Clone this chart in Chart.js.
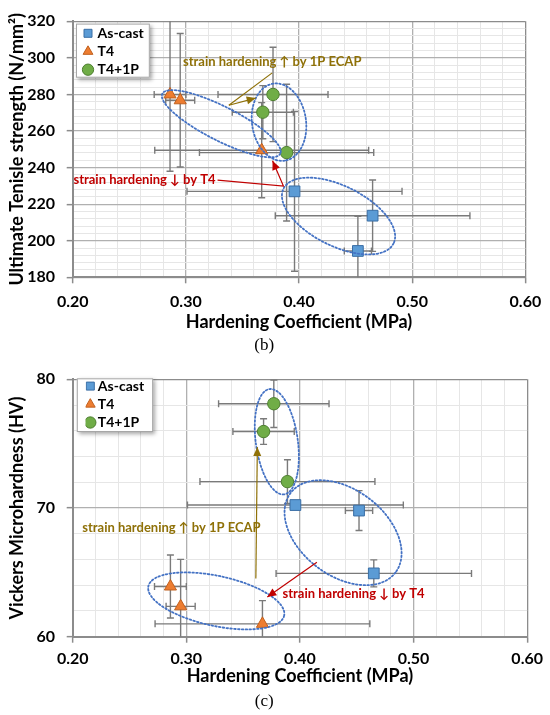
<!DOCTYPE html>
<html><head><meta charset="utf-8">
<script src="https://cdn.jsdelivr.net/npm/chart.js@4.4.1/dist/chart.umd.min.js"></script>
<style>
html,body{margin:0;padding:0;background:#fff;width:550px;height:715px;overflow:hidden}
.wrap{position:absolute;left:0;width:550px}
#w1{top:0;height:358px}
#w2{top:358px;height:357px}
canvas{display:block}
</style></head><body>
<div class="wrap" id="w1"><canvas id="c1"></canvas></div>
<div class="wrap" id="w2"><canvas id="c2"></canvas></div>
<script>
// ---------------- data ----------------
const seriesNames = ['As-cast', 'T4', 'T4+1P'];
const xTickLabels = ['0.20', '0.30', '0.40', '0.50', '0.60'];
const utsTickLabels = ['180', '200', '220', '240', '260', '280', '300', '320'];
const hvTickLabels = ['60', '70', '80'];

// Hardening coefficient (MPa) and its error, shared by both panels
const hcAsCast = [0.396, 0.465, 0.452];
const hcAsCastErr = [0.095, 0.086, 0.012];
const hcT4 = [0.286, 0.295, 0.367];
const hcT4Err = [0.014, 0.0128, 0.0945];
const hcT41P = [0.377, 0.368, 0.389];
const hcT41PErr = [0.0486, 0.027, 0.077];

// (b) Ultimate tensile strength (N/mm2)
const utsAsCast = [227, 213.7, 194.4];
const utsAsCastErr = [43.7, 19.5, 19];
const utsT4 = [280, 276.8, 249.5];
const utsT4Err = [42, 36.5, 26];
const utsT41P = [280, 270.3, 248.2];
const utsT41PErr = [25.8, 14.5, 37.4];

// (c) Vickers microhardness (HV)
const hvAsCast = [70.23, 64.92, 69.8];
const hvAsCastErr = [0.3, 1.05, 1.55];
const hvT4 = [63.9, 62.36, 61.0];
const hvT4Err = [2.45, 3.65, 1.8];
const hvT41P = [78.1, 75.94, 72.05];
const hvT41PErr = [1.85, 1.0, 1.7];

// ---------------- annotations (data coordinates) ----------------
const OLIVE = '#8F7108';
const RED = '#C00000';
const annB = {
  ellipses: [
    {p1: [0.2792, 280.4], p2: [0.3834, 247.6], minor: 17},
    {p1: [0.3772, 285.9], p2: [0.3874, 243.8], minor: 27},
    {p1: [0.3863, 228.5], p2: [0.4835, 198.5], minor: 30}
  ],
  texts: [
    {text: 'strain hardening \u2191 by 1P ECAP', at: [0.3763, 298.0], color: OLIVE, align: 'center'},
    {text: 'strain hardening \u2193 by T4', at: [0.3262, 233.1], color: RED, align: 'right'}
  ],
  lines: [
    {pts: [[0.3763, 291.8], [0.338, 274.1]], color: OLIVE, arrow: false},
    {pts: [[0.338, 274.1], [0.3617, 278.0]], color: OLIVE, arrow: true},
    {pts: [[0.3280, 233.1], [0.3862, 229.9], [0.3766, 243.7]], color: RED, arrow: true}
  ]
};
const annC = {
  ellipses: [
    {p1: [0.2666, 63.92], p2: [0.3861, 61.64], minor: 25},
    {p1: [0.3732, 79.24], p2: [0.3861, 71.06], minor: 21},
    {p1: [0.3918, 71.17], p2: [0.4841, 64.99], minor: 43}
  ],
  texts: [
    {text: 'strain hardening \u2191 by 1P ECAP', at: [0.2869, 68.47], color: OLIVE, align: 'center'},
    {text: 'strain hardening \u2193 by T4', at: [0.3847, 63.33], color: RED, align: 'left'}
  ],
  lines: [
    {pts: [[0.3612, 64.53], [0.3625, 74.74]], color: OLIVE, arrow: true},
    {pts: [[0.4149, 65.79], [0.3713, 63.08]], color: RED, arrow: true}
  ]
};

Chart.defaults.font.family = 'Lato, "Open Sans", sans-serif';
Chart.defaults.color = '#000';

function pts(xs, ys) { return xs.map((v, i) => ({x: v, y: ys[i]})); }

function makeDatasets(yAs, yAsE, yT4, yT4E, yP, yPE) {
  return [
    {label: seriesNames[0], data: pts(hcAsCast, yAs), xErr: hcAsCastErr, yErr: yAsE,
      pointStyle: 'rect', pointRadius: 7.6, backgroundColor: '#5B9BD5', borderColor: '#3A6EA5', borderWidth: 1},
    {label: seriesNames[1], data: pts(hcT4, yT4), xErr: hcT4Err, yErr: yT4E,
      pointStyle: 'triangle', pointRadius: 7, backgroundColor: '#ED7D31', borderColor: '#C0601E', borderWidth: 1},
    {label: seriesNames[2], data: pts(hcT41P, yP), xErr: hcT41PErr, yErr: yPE,
      pointStyle: 'circle', pointRadius: 6.2, backgroundColor: '#70AD47', borderColor: '#4E7F30', borderWidth: 1}
  ];
}

const errorBarPlugin = {
  id: 'errorBars',
  beforeDatasetsDraw(chart) {
    const {ctx, chartArea: a} = chart;
    const xs = chart.scales.x, ys = chart.scales.y;
    const CAP = 3.5;
    ctx.save();
    ctx.beginPath(); ctx.rect(a.left, a.top, a.right - a.left, a.bottom - a.top); ctx.clip();
    ctx.strokeStyle = '#7a7a7a'; ctx.lineWidth = 1.4;
    chart.data.datasets.forEach(ds => {
      ds.data.forEach((p, i) => {
        const ex = ds.xErr[i], ey = ds.yErr[i];
        const px = xs.getPixelForValue(p.x), py = ys.getPixelForValue(p.y);
        const x0 = xs.getPixelForValue(p.x - ex), x1 = xs.getPixelForValue(p.x + ex);
        const y0 = ys.getPixelForValue(p.y - ey), y1 = ys.getPixelForValue(p.y + ey);
        ctx.beginPath();
        ctx.moveTo(x0, py); ctx.lineTo(x1, py);
        ctx.moveTo(x0, py - CAP); ctx.lineTo(x0, py + CAP);
        ctx.moveTo(x1, py - CAP); ctx.lineTo(x1, py + CAP);
        ctx.moveTo(px, y0); ctx.lineTo(px, y1);
        ctx.moveTo(px - CAP, y0); ctx.lineTo(px + CAP, y0);
        ctx.moveTo(px - CAP, y1); ctx.lineTo(px + CAP, y1);
        ctx.stroke();
      });
    });
    ctx.restore();
  }
};

function annotationPlugin(ann) {
  return {
    id: 'annot',
    afterDatasetsDraw(chart) {
      const {ctx} = chart;
      const xs = chart.scales.x, ys = chart.scales.y;
      const P = d => [xs.getPixelForValue(d[0]), ys.getPixelForValue(d[1])];
      ctx.save();
      ctx.strokeStyle = '#4472C4'; ctx.lineWidth = 1.8; ctx.setLineDash([1.6, 2.2]); ctx.lineCap = 'round';
      ann.ellipses.forEach(e => {
        const [ax, ay] = P(e.p1), [bx, by] = P(e.p2);
        const cx = (ax + bx) / 2, cy = (ay + by) / 2;
        const r = Math.hypot(bx - ax, by - ay) / 2, th = Math.atan2(by - ay, bx - ax);
        ctx.beginPath(); ctx.ellipse(cx, cy, r, e.minor, th, 0, Math.PI * 2); ctx.stroke();
      });
      ctx.setLineDash([]); ctx.lineCap = 'butt';
      ann.lines.forEach(l => {
        const q = l.pts.map(P);
        ctx.strokeStyle = l.color; ctx.fillStyle = l.color; ctx.lineWidth = 1.2;
        ctx.beginPath(); ctx.moveTo(q[0][0], q[0][1]);
        for (let i = 1; i < q.length; i++) ctx.lineTo(q[i][0], q[i][1]);
        ctx.stroke();
        if (l.arrow) {
          const [x1, y1] = q[q.length - 1], [x0, y0] = q[q.length - 2];
          const t = Math.atan2(y1 - y0, x1 - x0), L = 9, W = 4;
          ctx.beginPath();
          ctx.moveTo(x1, y1);
          ctx.lineTo(x1 - L * Math.cos(t) + W * Math.sin(t), y1 - L * Math.sin(t) - W * Math.cos(t));
          ctx.lineTo(x1 - L * Math.cos(t) - W * Math.sin(t), y1 - L * Math.sin(t) + W * Math.cos(t));
          ctx.closePath(); ctx.fill();
        }
      });
      ctx.font = 'bold 13px Lato, "DejaVu Sans", sans-serif';
      ctx.textBaseline = 'middle';
      ann.texts.forEach(t => {
        const [x, y] = P(t.at);
        ctx.fillStyle = t.color; ctx.textAlign = t.align;
        ctx.fillText(t.text, x, y);
      });
      ctx.restore();
    }
  };
}

function legendBoxPlugin(lay) {
  return {
    id: 'legendBox',
    afterLayout(chart) {
      const lg = chart.legend, a = chart.chartArea;
      lg.left = a.left + lay.dx; lg.top = a.top + lay.dy;
      lg.right = a.right; lg.bottom = a.bottom;
      if (!lg.__boxed) {
        const orig = lg.draw;
        lg.draw = function (area) {
          const ctx = this.ctx, o = this.options.labels;
          const fs = o.font.size, pad = o.padding, bw = Math.min(o.boxWidth, fs);
          ctx.save();
          ctx.font = 'bold ' + fs + 'px ' + Chart.defaults.font.family;
          let mt = 0;
          this.legendItems.forEach(it => { mt = Math.max(mt, ctx.measureText(it.text).width); });
          const x0 = this.left + pad, y0 = this.top + pad, n = this.legendItems.length;
          const L = x0 + bw / 2 - lay.ml, T = y0 - lay.mt;
          const R = x0 + bw + fs / 2 + mt + lay.mr, B = y0 + (n - 1) * (fs + pad) + fs + lay.mb;
          ctx.shadowColor = 'rgba(0,0,0,0.35)'; ctx.shadowBlur = 4; ctx.shadowOffsetX = 2; ctx.shadowOffsetY = 2;
          ctx.fillStyle = '#fff'; ctx.fillRect(L, T, R - L, B - T);
          ctx.shadowColor = 'transparent';
          ctx.strokeStyle = '#a6a6a6'; ctx.lineWidth = 1; ctx.strokeRect(L + 0.5, T + 0.5, R - L - 1, B - T - 1);
          ctx.restore();
          orig.call(this, area);
        };
        lg.__boxed = true;
      }
    }
  };
}

function labelFrom(list, v) {
  const f = list.find(s => Math.abs(parseFloat(s) - v) < 1e-6);
  return f === undefined ? '' : f;
}

function makeChart(id, o) {
  const isMajorX = v => Math.abs(v * 10 - Math.round(v * 10)) < 1e-6;
  const isMajorY = v => Math.abs(v / o.yMajor - Math.round(v / o.yMajor)) < 1e-6;
  const gridCol = (maj, edge) => edge ? '#8c8c8c' : (maj ? '#b0b0b0' : '#e6e6e6');
  return new Chart(document.getElementById(id), {
    type: 'scatter',
    data: {datasets: o.datasets},
    options: {
      responsive: true, maintainAspectRatio: false, animation: false,
      layout: {padding: {top: o.top, right: 21.7, left: 0, bottom: 0}},
      plugins: {
        legend: {
          position: 'chartArea', align: 'start',
          labels: {usePointStyle: true, boxWidth: o.legend.bw, boxHeight: 8, padding: o.legend.pad,
            font: {size: 14, weight: 'bold'}, color: '#000'}
        },
        tooltip: {enabled: false},
        title: {display: true, position: 'bottom', text: o.caption,
          font: {family: '"Liberation Serif", serif', size: 17, weight: 'normal'}, color: '#000',
          padding: {top: 0, bottom: o.capPad}}
      },
      scales: {
        x: {
          type: 'linear', min: 0.2, max: 0.6,
          afterFit: s => { s.height = o.xH; },
          ticks: {stepSize: 0.02, autoSkip: false, maxRotation: 0, padding: o.xTickPad,
            font: {size: 16, weight: 'bold'}, color: '#000',
            callback: v => labelFrom(xTickLabels, v)},
          grid: {color: c => gridCol(isMajorX(c.tick.value), Math.abs(c.tick.value - 0.6) < 1e-6),
            lineWidth: c => isMajorX(c.tick.value) ? 1.3 : 1,
            tickLength: 6, tickWidth: 1.5,
            tickColor: c => isMajorX(c.tick.value) ? '#8c8c8c' : 'rgba(0,0,0,0)'},
          border: {color: '#8c8c8c', width: 2},
          title: {display: true, text: 'Hardening Coefficient (MPa)', font: {size: 18, weight: 'bold'},
            color: '#000', padding: {top: 0, bottom: o.xTitlePad}}
        },
        y: {
          type: 'linear', min: o.yMin, max: o.yMax,
          afterFit: s => { s.width = 72.7; },
          ticks: {stepSize: o.yStep, autoSkip: false, padding: 11.7,
            font: {size: 16, weight: 'bold'}, color: '#000',
            callback: v => labelFrom(o.yLabels, v)},
          grid: {color: c => gridCol(isMajorY(c.tick.value), Math.abs(c.tick.value - o.yMax) < 1e-6),
            lineWidth: c => isMajorY(c.tick.value) ? 1.3 : 1,
            tickLength: 6, tickWidth: 1.5,
            tickColor: c => isMajorY(c.tick.value) ? '#8c8c8c' : 'rgba(0,0,0,0)'},
          border: {color: '#8c8c8c', width: 2},
          title: {display: true, text: o.yTitle, font: {size: 18, weight: 'bold'},
            color: '#000', padding: {top: 6.5, bottom: 0}}
        }
      }
    },
    plugins: [errorBarPlugin, annotationPlugin(o.ann), legendBoxPlugin(o.legend)]
  });
}

makeChart('c1', {
  datasets: makeDatasets(utsAsCast, utsAsCastErr, utsT4, utsT4Err, utsT41P, utsT41PErr),
  top: 12.7, xH: 58.5, xTickPad: 8.8, xTitlePad: 3.3, capPad: 1.8, caption: '(b)',
  yMin: 180, yMax: 320, yStep: 4, yMajor: 20, yLabels: utsTickLabels,
  yTitle: 'Ultimate Tenisle strength (N/mm\u00B2)',
  legend: {dx: 8.6, dy: 0.8, bw: 5, pad: 4.2, ml: 12, mt: 2.7, mr: 6, mb: 1},
  ann: annB
});
makeChart('c2', {
  datasets: makeDatasets(hvAsCast, hvAsCastErr, hvT4, hvT4Err, hvT41P, hvT41PErr),
  top: 13, xH: 54.8, xTickPad: 7, xTitlePad: 5, capPad: 3.1, caption: '(c)',
  yMin: 60, yMax: 80, yStep: 2, yMajor: 10, yLabels: hvTickLabels,
  yTitle: 'Vickers Microhardness (HV)',
  legend: {dx: 12.9, dy: -4.4, bw: 1, pad: 4.2, ml: 13.5, mt: 0.8, mr: 9, mb: 2.5},
  ann: annC
});
</script>
</body></html>
